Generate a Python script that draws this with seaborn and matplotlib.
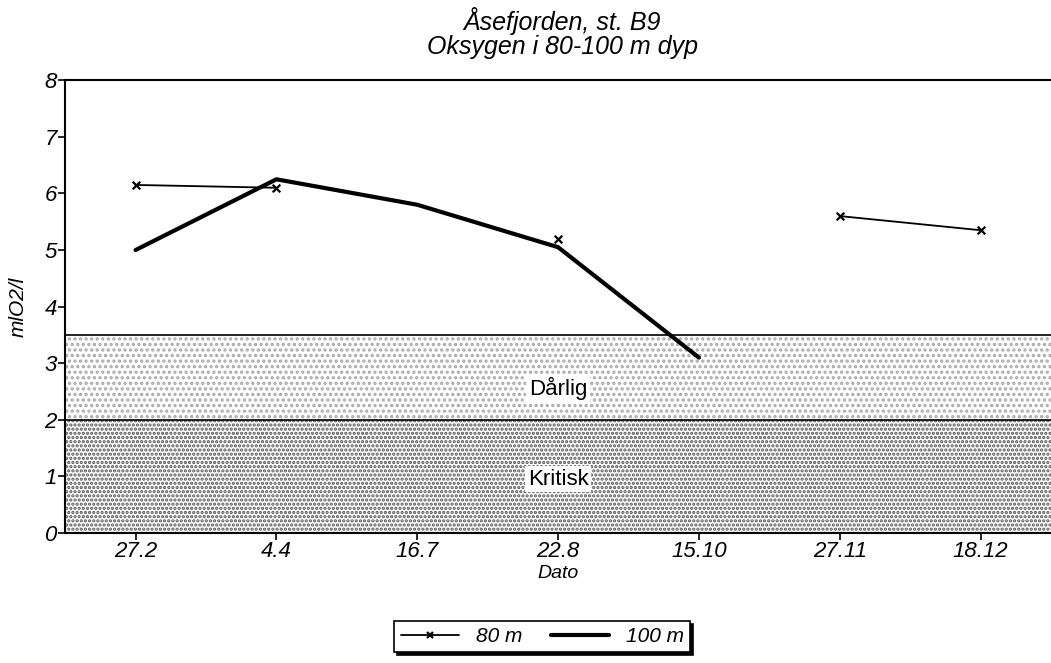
import matplotlib.pyplot as plt
import numpy as np
import pandas as pd
import seaborn as sns

dates = ["27.2", "4.4", "16.7", "22.8", "15.10", "27.11", "18.12"]
o2_80m = [6.15, 6.1, np.nan, 5.2, np.nan, 5.6, 5.35]
o2_100m = [5.0, 6.25, 5.8, 5.05, 3.1, np.nan, np.nan]

# segments so the broken 80 m series is not joined across gaps
seg_80m = [0, 0, -1, 1, -1, 2, 2]

df80 = pd.DataFrame({"pos": range(len(dates)), "o2": o2_80m, "seg": seg_80m}).dropna()
df100 = pd.DataFrame({"pos": range(len(dates)), "o2": o2_100m}).dropna()

sns.set_theme(style="white")
plt.rcParams["font.family"] = ["Liberation Sans", "DejaVu Sans"]
plt.rcParams["text.color"] = "black"
plt.rcParams["axes.labelcolor"] = "black"
plt.rcParams["xtick.color"] = "black"
plt.rcParams["ytick.color"] = "black"
plt.rcParams["hatch.linewidth"] = 1.6

fig = plt.figure(figsize=(10.51, 6.63), dpi=100)
ax = fig.add_axes([0.062, 0.196, 0.938, 0.683])

# quality bands
ax.axhspan(0, 2, facecolor="white", edgecolor="#555555", hatch="....", linewidth=0)
ax.axhspan(2, 3.5, facecolor="white", edgecolor="#aaaaaa", hatch="...", linewidth=0)
ax.axhline(2, color="black", lw=1.2)
ax.axhline(3.5, color="black", lw=1.2)

sns.lineplot(data=df80, x="pos", y="o2", units="seg", estimator=None, color="black",
             lw=1.3, ax=ax)
sns.scatterplot(data=df80, x="pos", y="o2", color="black", marker="x", s=30,
                linewidth=1.6, ax=ax, zorder=3)
sns.lineplot(data=df100, x="pos", y="o2", color="black", lw=3, ax=ax)

ax.text(3, 2.55, "Dårlig", ha="center", va="center", fontsize=16,
        bbox=dict(facecolor="white", edgecolor="none", pad=2))
ax.text(3, 0.95, "Kritisk", ha="center", va="center", fontsize=16,
        bbox=dict(facecolor="white", edgecolor="none", pad=2))

ax.set_xlim(-0.5, 6.5)
ax.set_ylim(0, 8)
ax.set_xticks(range(len(dates)))
ax.set_xticklabels(dates, fontsize=16, style="italic")
ax.set_yticks(range(9))
ax.set_yticklabels([str(i) for i in range(9)], fontsize=16, style="italic")
ax.tick_params(axis="both", direction="out", length=5, width=1.2, color="black",
               bottom=True, left=True, pad=1)
ax.set_xlabel("Dato", fontsize=14, style="italic", labelpad=2)
ax.set_ylabel("mlO2/l", fontsize=15, style="italic", labelpad=12)

for side in ["left", "top", "bottom"]:
    ax.spines[side].set_color("black")
    ax.spines[side].set_linewidth(1.5)
ax.spines["right"].set_visible(False)

fig.text(0.535, 0.955, "Åsefjorden, st. B9", ha="center", va="baseline", fontsize=18,
         style="italic")
fig.text(0.535, 0.918, "Oksygen i 80-100 m dyp", ha="center", va="baseline", fontsize=18,
         style="italic")

h80 = plt.Line2D([], [], color="black", lw=1.3, marker="x", markersize=5, mew=1.6)
h100 = plt.Line2D([], [], color="black", lw=3)
leg = fig.legend([h80, h100], ["80 m", "100 m"], ncol=2, loc="center",
                 bbox_to_anchor=(0.516, 0.04), frameon=True, fancybox=False,
                 shadow={"color": "black", "alpha": 1}, edgecolor="black",
                 prop={"size": 15, "style": "italic"}, handlelength=2.8,
                 borderpad=0.3, columnspacing=1.4)
leg.get_frame().set_linewidth(1.2)

fig.savefig("out.png", dpi=100)
